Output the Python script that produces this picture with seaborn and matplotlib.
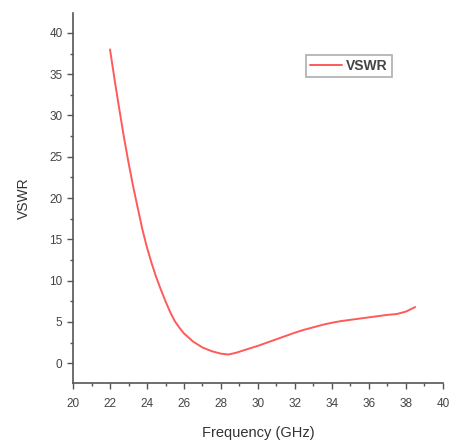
import matplotlib
matplotlib.use("Agg")
import matplotlib.pyplot as plt
import seaborn as sns
import pandas as pd
from matplotlib.ticker import MultipleLocator

freq = [22.0, 22.25, 22.5, 22.75, 23.0, 23.25, 23.5, 23.75, 24.0, 24.25, 24.5, 24.75,
        25.0, 25.25, 25.5, 25.75, 26.0, 26.5, 27.0, 27.5, 28.0, 28.4, 28.8, 29.5,
        30.0, 30.5, 31.0, 31.5, 32.0, 32.5, 33.0, 33.5, 34.0, 34.5, 35.0, 35.5,
        36.0, 36.5, 37.0, 37.5, 38.0, 38.5]
vswr = [38.0, 34.3, 30.8, 27.4, 24.3, 21.4, 18.8, 16.2, 14.0, 12.1, 10.4, 8.9,
        7.5, 6.2, 5.1, 4.3, 3.6, 2.6, 1.9, 1.45, 1.15, 1.05, 1.25, 1.75,
        2.1, 2.5, 2.9, 3.3, 3.7, 4.05, 4.35, 4.65, 4.9, 5.1, 5.25, 5.4,
        5.55, 5.7, 5.85, 5.95, 6.25, 6.8]

df = pd.DataFrame({"Frequency (GHz)": freq, "VSWR": vswr})

sns.set_style("ticks")
plt.rcParams['font.family'] = ['Liberation Sans', 'DejaVu Sans']

fig = plt.figure(figsize=(4.49, 4.42), dpi=100)
ax = fig.add_axes([0.1626, 0.1335, 0.824, 0.837])

sns.lineplot(data=df, x="Frequency (GHz)", y="VSWR", ax=ax, color="#ff5a5a",
             linewidth=1.4, label="VSWR")

ax.set_xlim(20, 40)
ax.set_ylim(-2.4, 42.4)
ax.xaxis.set_major_locator(MultipleLocator(2))
ax.xaxis.set_minor_locator(MultipleLocator(1))
ax.yaxis.set_major_locator(MultipleLocator(5))
ax.yaxis.set_minor_locator(MultipleLocator(2.5))

for s in ["top", "right"]:
    ax.spines[s].set_visible(False)
for s in ["left", "bottom"]:
    ax.spines[s].set_color("#555555")
    ax.spines[s].set_linewidth(1.2)

ax.tick_params(which="major", length=4, width=1, color="#555555", labelsize=8.5,
               labelcolor="#444444", direction="out")
ax.tick_params(axis="x", which="major", pad=7)
ax.tick_params(which="minor", length=2.5, width=1, color="#555555", direction="out")

ax.set_xlabel("Frequency (GHz)", fontsize=10.5, color="#333333", labelpad=11)
ax.set_ylabel("VSWR", fontsize=10, color="#333333", labelpad=13)

leg = ax.legend(loc="upper left", bbox_to_anchor=(0.61, 0.905), frameon=True,
                fontsize=10, handlelength=2.3, borderpad=0.3, fancybox=False,
                handletextpad=0.3)
leg.get_frame().set_edgecolor("#999999")
leg.get_frame().set_linewidth(1.2)
for t in leg.get_texts():
    t.set_color("#444444")
    t.set_fontweight("bold")

fig.savefig("out.png", dpi=100)
